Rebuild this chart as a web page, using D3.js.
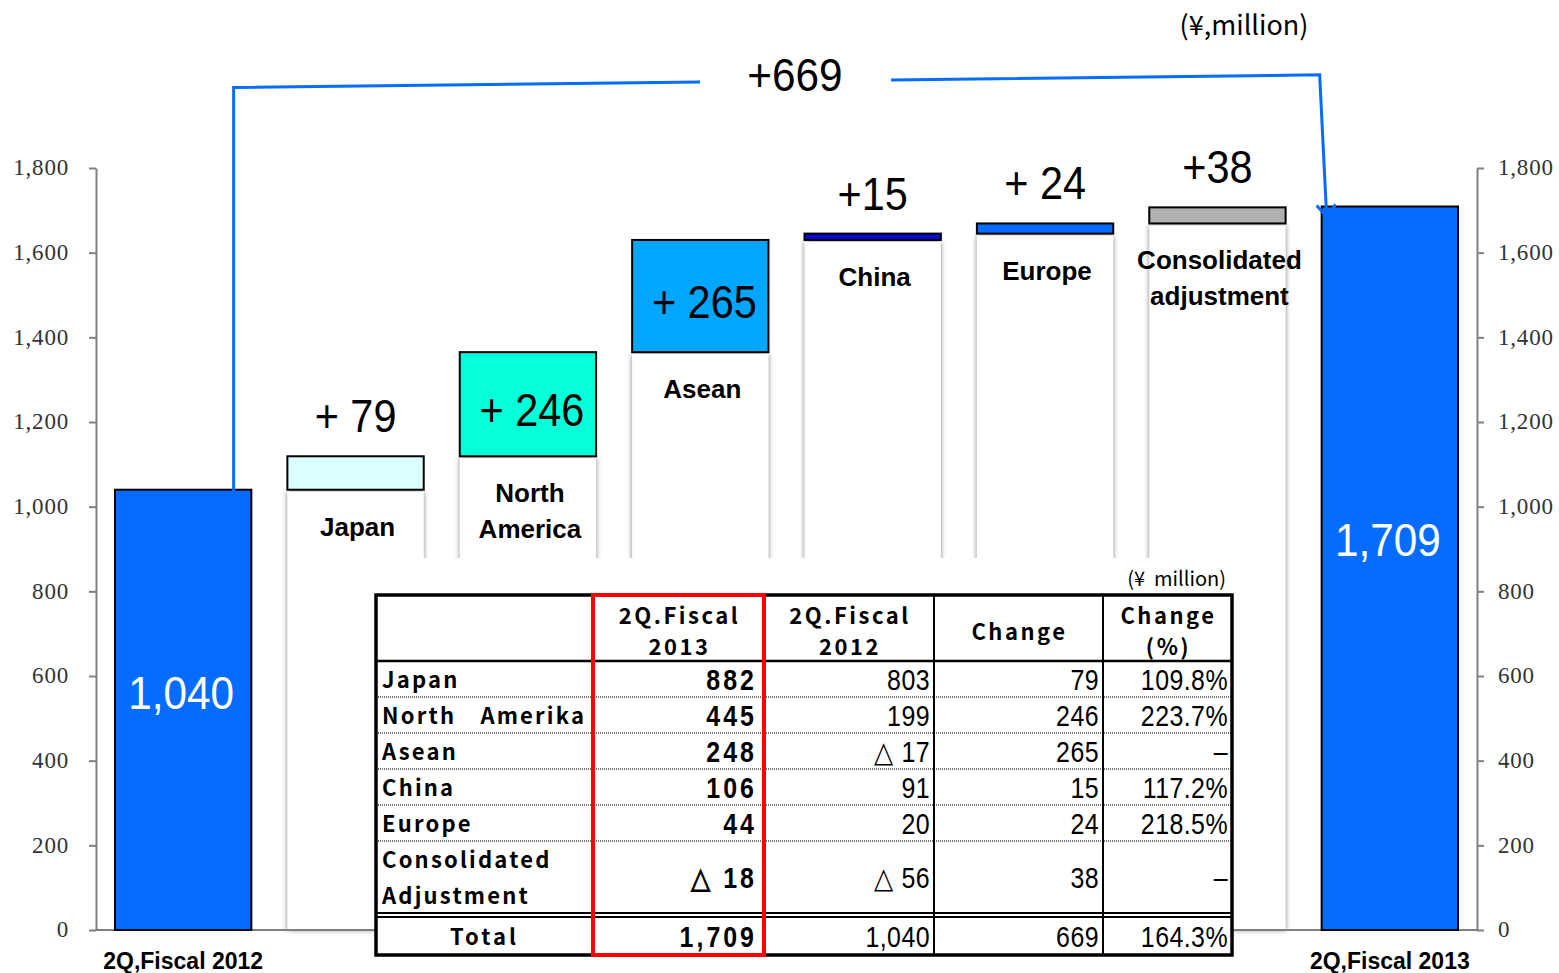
<!DOCTYPE html>
<html>
<head>
<meta charset="utf-8">
<script src="https://cdn.jsdelivr.net/npm/d3@7"></script>
<style>
  body { margin: 0; background: #fff; }
  svg { display: block; }
</style>
</head>
<body>
<div id="chart"></div>
<script>
// ---- data ----
const categories = ["2Q,Fiscal 2012", "Japan", "North America", "Asean", "China", "Europe", "Consolidated adjustment", "2Q,Fiscal 2013"];
const barNames = [[], ["Japan"], ["North", "America"], ["Asean"], ["China"], ["Europe"], ["Consolidated", "adjustment"], []];
const startTotal = 1040;
const endTotal = 1709;
const deltas = [79, 246, 265, 15, 24, 38];
const deltaLabels = ["+ 79", "+ 246", "+ 265", "+15", "+ 24", "+38"];
const totalChangeLabel = "+669";
const barColors = ["#066cff", "#d9ffff", "#06ffd8", "#00a6ff", "#0a0ad8", "#066cff", "#b0b0b0", "#066cff"];
const yTicks = [0, 200, 400, 600, 800, 1000, 1200, 1400, 1600, 1800];

// table
const tableRegions = [["Japan"], ["North\u3000Amerika"], ["Asean"], ["China"], ["Europe"], ["Consolidated", "Adjustment"]];
const tableHeaders = [["2Q.Fiscal", "2013"], ["2Q.Fiscal", "2012"], ["Change"], ["Change", "(%)"]];
const fy2013 = [882, 445, 248, 106, 44, -18];
const fy2012 = [803, 199, -17, 91, 20, -56];
const changePct = ["109.8%", "223.7%", "\u2013", "117.2%", "218.5%", "\u2013"];
const totalRow = { label: "Total", fy2013: 1709, fy2012: 1040, change: 669, pct: "164.3%" };

// ---- layout ----
const W = 1559, H = 973;
const svg = d3.select("#chart").append("svg").attr("width", W).attr("height", H);

const y = d3.scaleLinear().domain([0, 1800]).range([930, 168]);
const x = d3.scaleBand().domain(categories).range([115, 1458]).paddingInner(0.209);
const bw = x.bandwidth();
const sans = "'Liberation Sans', Arial, sans-serif";

// condensed text helper (reference font is a narrow gothic)
function narrowText(g, px, py, str, size, sx, anchor) {
    return g.append("text")
        .attr("transform", `translate(${px},${py}) scale(${sx},1)`)
        .attr("text-anchor", anchor || "middle")
        .attr("font-family", sans).attr("font-size", size)
        .text(str);
}

// waterfall steps
let cum = startTotal;
const steps = [{ cat: categories[0], lo: 0, hi: startTotal, total: true }];
deltas.forEach((d, i) => {
    steps.push({ cat: categories[i + 1], lo: cum, hi: cum + d, total: false, label: deltaLabels[i], names: barNames[i + 1] });
    cum += d;
});
steps.push({ cat: categories[7], lo: 0, hi: endTotal, total: true });

const defs = svg.append("defs");
const f = defs.append("filter").attr("id", "shade").attr("x", "-10%").attr("y", "-2%").attr("width", "120%").attr("height", "104%");
f.append("feDropShadow").attr("dx", 0).attr("dy", 0).attr("stdDeviation", 2.5).attr("flood-color", "#777").attr("flood-opacity", 1);

// axes
const fmt = d3.format(",");
const axL = svg.append("g").attr("transform", "translate(96,0)")
    .call(d3.axisLeft(y).tickValues(yTicks).tickSize(7).tickSizeOuter(0).tickPadding(20).tickFormat(fmt));
const axR = svg.append("g").attr("transform", "translate(1477,0)")
    .call(d3.axisRight(y).tickValues(yTicks).tickSize(7).tickSizeOuter(0).tickPadding(14).tickFormat(fmt));
[axL, axR].forEach(g => {
    g.select(".domain").attr("stroke", "#808080").attr("stroke-width", 2);
    g.selectAll(".tick line").attr("stroke", "#808080").attr("stroke-width", 2);
    g.selectAll(".tick text").attr("font-family", "'Liberation Serif', 'Times New Roman', serif")
        .attr("font-size", 23).attr("fill", "#333").attr("letter-spacing", 0.8).attr("dy", "0.3em");
});

// white base columns with soft shade
svg.selectAll(".base").data(steps.filter(s => !s.total)).enter().append("rect")
    .attr("class", "base")
    .attr("x", d => x(d.cat)).attr("width", bw)
    .attr("y", d => y(d.lo) + 2).attr("height", d => y(0) - y(d.lo) - 2)
    .attr("fill", "#fff").attr("filter", "url(#shade)");

// baseline
svg.append("line").attr("x1", 96).attr("x2", 1477).attr("y1", y(0)).attr("y2", y(0))
    .attr("stroke", "#808080").attr("stroke-width", 2);

// bars
svg.selectAll(".bar").data(steps).enter().append("rect")
    .attr("class", "bar")
    .attr("x", d => x(d.cat)).attr("width", bw)
    .attr("y", d => y(d.hi)).attr("height", d => y(d.lo) - y(d.hi))
    .attr("fill", (d, i) => barColors[i])
    .attr("stroke", "#000").attr("stroke-width", 2);

// total values inside bars
steps.filter(s => s.total).forEach(s => {
    narrowText(svg, x(s.cat) + bw / 2 - 2, y(s.hi * 0.54) + 17, fmt(s.hi), 47, 0.9).attr("fill", "#fff");
});

// delta labels
steps.filter(s => !s.total).forEach(s => {
    const h = y(s.lo) - y(s.hi);
    const ly = h > 60 ? (y(s.lo) + y(s.hi)) / 2 + 22 : y(s.hi) - 24;
    narrowText(svg, x(s.cat) + bw / 2 + (h > 60 ? 4 : 0), ly, s.label, 46, 0.9);
});

// category names inside white columns
steps.filter(s => !s.total).forEach(s => {
    s.names.forEach((n, j) => {
        svg.append("text")
            .attr("x", x(s.cat) + bw / 2 + 2)
            .attr("y", y(s.lo) + 46 + j * 36)
            .attr("text-anchor", "middle")
            .attr("font-family", sans).attr("font-weight", "bold")
            .attr("font-size", 26).attr("fill", "#000")
            .text(n);
    });
});

// bottom category labels for the totals
svg.selectAll(".xl").data(steps.filter(s => s.total)).enter().append("text")
    .attr("x", d => x(d.cat) + bw / 2)
    .attr("y", 969)
    .attr("text-anchor", "middle")
    .attr("font-family", sans).attr("font-weight", "bold")
    .attr("font-size", 23).attr("fill", "#000")
    .text(d => d.cat);

// unit
svg.append("text").attr("x", 1244).attr("y", 35).attr("text-anchor", "middle")
    .attr("font-family", "'Noto Sans CJK JP', sans-serif").attr("font-size", 27)
    .text("(\u00a5,million)");

// connector from 2012 total to 2013 total
const blue = "#066cff";
const xL = x(categories[0]) + bw * 0.87;
const xR = x(categories[7]) - 2;
const yLtop = y(1990), yRtop = y(2020);
const lineAt = px => yLtop + (yRtop - yLtop) * (px - xL) / (xR - xL);
const conn = svg.append("g").attr("stroke", blue).attr("stroke-width", 3).attr("fill", "none");
conn.append("path").attr("d", `M${xL},${y(startTotal) + 15}L${xL},${yLtop}L700,${lineAt(700)}`);
const tipX = xR + 7, tipY = y(endTotal) + 10;
conn.append("path").attr("d", `M891,${lineAt(891)}L${xR},${yRtop}L${tipX},${tipY}`);
conn.append("path").attr("d", `M${tipX - 10},${tipY - 11}L${tipX},${tipY}L${tipX + 9},${tipY - 12}`);
narrowText(svg, 795, 91, totalChangeLabel, 47, 0.9);

// ---- table ----
const colX = [376, 593, 764, 934, 1103, 1232];
const rowY = [595, 661, 697, 733, 769, 805, 841, 913];
const totalY = [917, 955];
const tfont = "'Noto Sans CJK JP', sans-serif";

svg.append("rect").attr("x", colX[0]).attr("y", 558).attr("width", colX[5] - colX[0]).attr("height", 400).attr("fill", "#fff");
svg.append("text").attr("x", 1226).attr("y", 586).attr("text-anchor", "end").style("white-space", "pre")
    .attr("font-family", tfont).attr("font-size", 20).text("(\u00a5\u00a0\u00a0million)");

const tbl = svg.append("g");
// row separators
rowY.slice(2, 7).forEach(yy => {
    tbl.append("line").attr("x1", colX[0]).attr("x2", colX[5]).attr("y1", yy).attr("y2", yy)
        .attr("stroke", "#777").attr("stroke-width", 2).attr("stroke-dasharray", "1,1");
});
tbl.append("line").attr("x1", colX[0]).attr("x2", colX[5]).attr("y1", rowY[1]).attr("y2", rowY[1]).attr("stroke", "#000").attr("stroke-width", 2.5);
[rowY[7], totalY[0]].forEach(yy => tbl.append("line").attr("x1", colX[0]).attr("x2", colX[5]).attr("y1", yy).attr("y2", yy).attr("stroke", "#000").attr("stroke-width", 2));
colX.slice(1, 5).forEach(xx => tbl.append("line").attr("x1", xx).attr("x2", xx).attr("y1", rowY[0]).attr("y2", totalY[1]).attr("stroke", "#000").attr("stroke-width", 2));
tbl.append("rect").attr("x", colX[0]).attr("y", rowY[0]).attr("width", colX[5] - colX[0]).attr("height", totalY[1] - rowY[0])
    .attr("fill", "none").attr("stroke", "#000").attr("stroke-width", 3.5);

// headers
tableHeaders.forEach((lines, c) => {
    const cx = (colX[c + 1] + colX[c + 2]) / 2;
    lines.forEach((t, j) => {
        tbl.append("text").attr("x", cx + 1)
            .attr("y", lines.length === 1 ? 640 : 624 + j * 31)
            .attr("text-anchor", "middle").attr("font-family", tfont).attr("font-weight", "bold")
            .attr("font-size", 22).attr("letter-spacing", 2.5).text(t);
    });
});

const neg = v => v < 0 ? "\u25b3 " + fmt(-v) : fmt(v);
function cellValue(c, mid, v) {
    narrowText(tbl, colX[c + 2] - (c === 0 ? 7 : 4), mid + 11, v, 29, 0.86, "end")
        .attr("font-weight", c === 0 ? "bold" : "normal")
        .attr("letter-spacing", c === 0 ? 3.5 : 0.5);
}
tableRegions.forEach((lines, r) => {
    const top = rowY[r + 1], bot = r + 2 < rowY.length ? rowY[r + 2] : rowY[7];
    const mid = (top + bot) / 2;
    lines.forEach((t, j) => {
        tbl.append("text").attr("x", 382)
            .attr("y", lines.length === 1 ? mid + 9 : mid - 9 + j * 36)
            .attr("font-family", tfont).attr("font-weight", "bold")
            .attr("font-size", 22).attr("letter-spacing", 2.2).text(t);
    });
    [neg(fy2013[r]), neg(fy2012[r]), fmt(deltas[r]), changePct[r]].forEach((v, c) => cellValue(c, mid, v));
});
// total row
const tmid = (totalY[0] + totalY[1]) / 2;
tbl.append("text").attr("x", (colX[0] + colX[1]) / 2).attr("y", tmid + 9).attr("text-anchor", "middle")
    .attr("font-family", tfont).attr("font-weight", "bold").attr("font-size", 22).attr("letter-spacing", 3).text(totalRow.label);
[fmt(totalRow.fy2013), fmt(totalRow.fy2012), fmt(totalRow.change), totalRow.pct].forEach((v, c) => cellValue(c, tmid, v));

// red highlight around 2013 column
tbl.append("rect").attr("x", colX[1]).attr("y", rowY[0]).attr("width", colX[2] - colX[1]).attr("height", totalY[1] - rowY[0])
    .attr("fill", "none").attr("stroke", "#ff0000").attr("stroke-width", 4);
</script>
</body>
</html>
